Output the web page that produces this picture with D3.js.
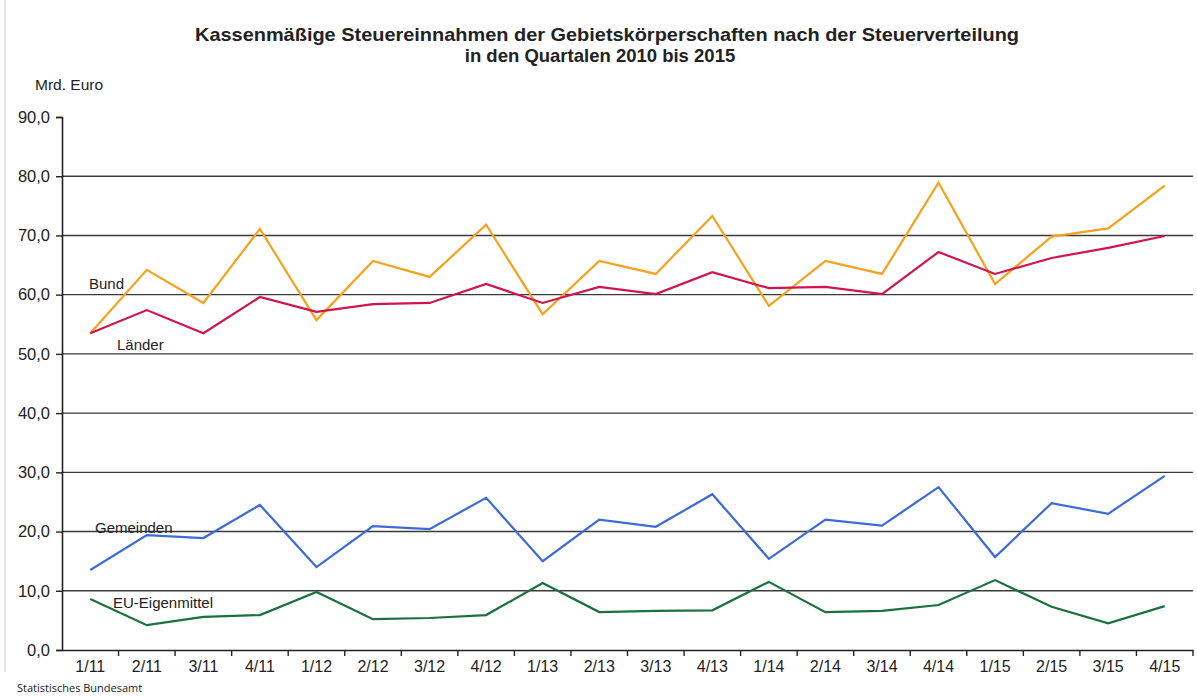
<!DOCTYPE html>
<html>
<head>
<meta charset="utf-8">
<script src="https://cdn.jsdelivr.net/npm/d3@7.9.0/dist/d3.min.js"></script>
<style>
  body { margin: 0; background: #fff; }
  text { font-family: Arial, "Liberation Sans", sans-serif; fill: #222; }
</style>
</head>
<body>
<svg id="chart" width="1197" height="697"></svg>
<script>
const quarters = ['1/11','2/11','3/11','4/11','1/12','2/12','3/12','4/12','1/13','2/13',
                  '3/13','4/13','1/14','2/14','3/14','4/14','1/15','2/15','3/15','4/15'];
const bund      = [53.5,64.2,58.6,71.1,55.7,65.7,63.0,71.8,56.7,65.7,63.5,73.3,58.1,65.7,63.5,78.9,61.8,69.8,71.2,78.4];
const laender   = [53.5,57.4,53.5,59.6,57.1,58.4,58.6,61.8,58.6,61.3,60.1,63.8,61.1,61.3,60.1,67.2,63.5,66.2,67.9,69.9];
const gemeinden = [13.5,19.4,18.9,24.5,14.0,20.9,20.4,25.7,15.0,22.0,20.8,26.3,15.4,22.0,21.0,27.5,15.7,24.8,23.0,29.4];
const eu        = [8.6,4.2,5.6,5.9,9.8,5.2,5.4,5.9,11.3,6.4,6.6,6.7,11.5,6.4,6.6,7.6,11.8,7.3,4.5,7.4];
const yTicks = [0,10,20,30,40,50,60,70,80,90];

const series = [
  { name: 'Bund', values: bund, color: '#f5a21f', lx: 89, ly: 289 },
  { name: 'Länder', values: laender, color: '#d0144f', lx: 117, ly: 350 },
  { name: 'Gemeinden', values: gemeinden, color: '#3d6bd6', lx: 95, ly: 533 },
  { name: 'EU-Eigenmittel', values: eu, color: '#1b7040', lx: 113, ly: 608 }
];

const svg = d3.select('#chart');
const plotLeft = 62, plotRight = 1193, plotTop = 117, plotBottom = 650;

// border of the original image
svg.append('line').attr('x1', 5).attr('x2', 5).attr('y1', 0).attr('y2', 672)
  .attr('stroke', '#ccc').attr('stroke-width', 1);

const x = d3.scaleBand().domain(quarters).range([plotLeft, plotRight]);
const y = d3.scaleLinear().domain([0, 90]).range([plotBottom, plotTop]);

// title
svg.append('text').attr('x', 607).attr('y', 41).attr('text-anchor', 'middle')
  .attr('textLength', 824).attr('lengthAdjust', 'spacingAndGlyphs')
  .style('font-weight', 'bold').style('font-size', '18.5px')
  .text('Kassenmäßige Steuereinnahmen der Gebietskörperschaften nach der Steuerverteilung');
svg.append('text').attr('x', 600).attr('y', 62).attr('text-anchor', 'middle')
  .style('font-weight', 'bold').style('font-size', '18.5px')
  .text('in den Quartalen 2010 bis 2015');

svg.append('text').attr('x', 35).attr('y', 90).style('font-size', '15.5px').text('Mrd. Euro');

// gridlines
svg.append('g').selectAll('line').data(yTicks.filter(d => d > 0 && d < 90)).join('line')
  .attr('x1', plotLeft).attr('x2', plotRight)
  .attr('y1', d => y(d)).attr('y2', d => y(d))
  .attr('stroke', '#3a3a3a').attr('stroke-width', 1.4);

// y axis
const yAxis = svg.append('g').attr('transform', `translate(${plotLeft},0)`)
  .call(d3.axisLeft(y).tickValues(yTicks).tickSize(6).tickPadding(6)
    .tickFormat(d => d3.format('.1f')(d).replace('.', ',')));
yAxis.select('.domain').attr('stroke', '#222').attr('stroke-width', 1.6);
yAxis.selectAll('.tick line').attr('stroke', '#222').attr('stroke-width', 1.4);
yAxis.selectAll('.tick text').style('font-size', '16.5px').attr('fill', '#222');

// x axis
const xAxis = svg.append('g').attr('transform', `translate(0,${plotBottom})`)
  .call(d3.axisBottom(x).tickSize(0).tickPadding(11));
xAxis.select('.domain').attr('stroke', '#222').attr('stroke-width', 1.6);
xAxis.selectAll('.tick text').style('font-size', '16px').attr('fill', '#222');
xAxis.selectAll('line.sep').data(quarters).join('line').attr('class', 'sep')
  .attr('x1', d => x(d) + x.bandwidth()).attr('x2', d => x(d) + x.bandwidth())
  .attr('y1', 0).attr('y2', 6).attr('stroke', '#222').attr('stroke-width', 1.4);

// lines
const line = d3.line().x((d, i) => x(quarters[i]) + x.bandwidth() / 2).y(d => y(d));
series.forEach(s => {
  svg.append('path').datum(s.values).attr('d', line)
    .attr('fill', 'none').attr('stroke', s.color).attr('stroke-width', 2.2)
    .attr('stroke-linejoin', 'miter');
  svg.append('text').attr('x', s.lx).attr('y', s.ly).style('font-size', '15px').text(s.name);
});

svg.append('text').attr('x', 17).attr('y', 692).style('font-size', '11px')
  .style('font-family', '"Open Sans", sans-serif').text('Statistisches Bundesamt');
</script>
</body>
</html>
